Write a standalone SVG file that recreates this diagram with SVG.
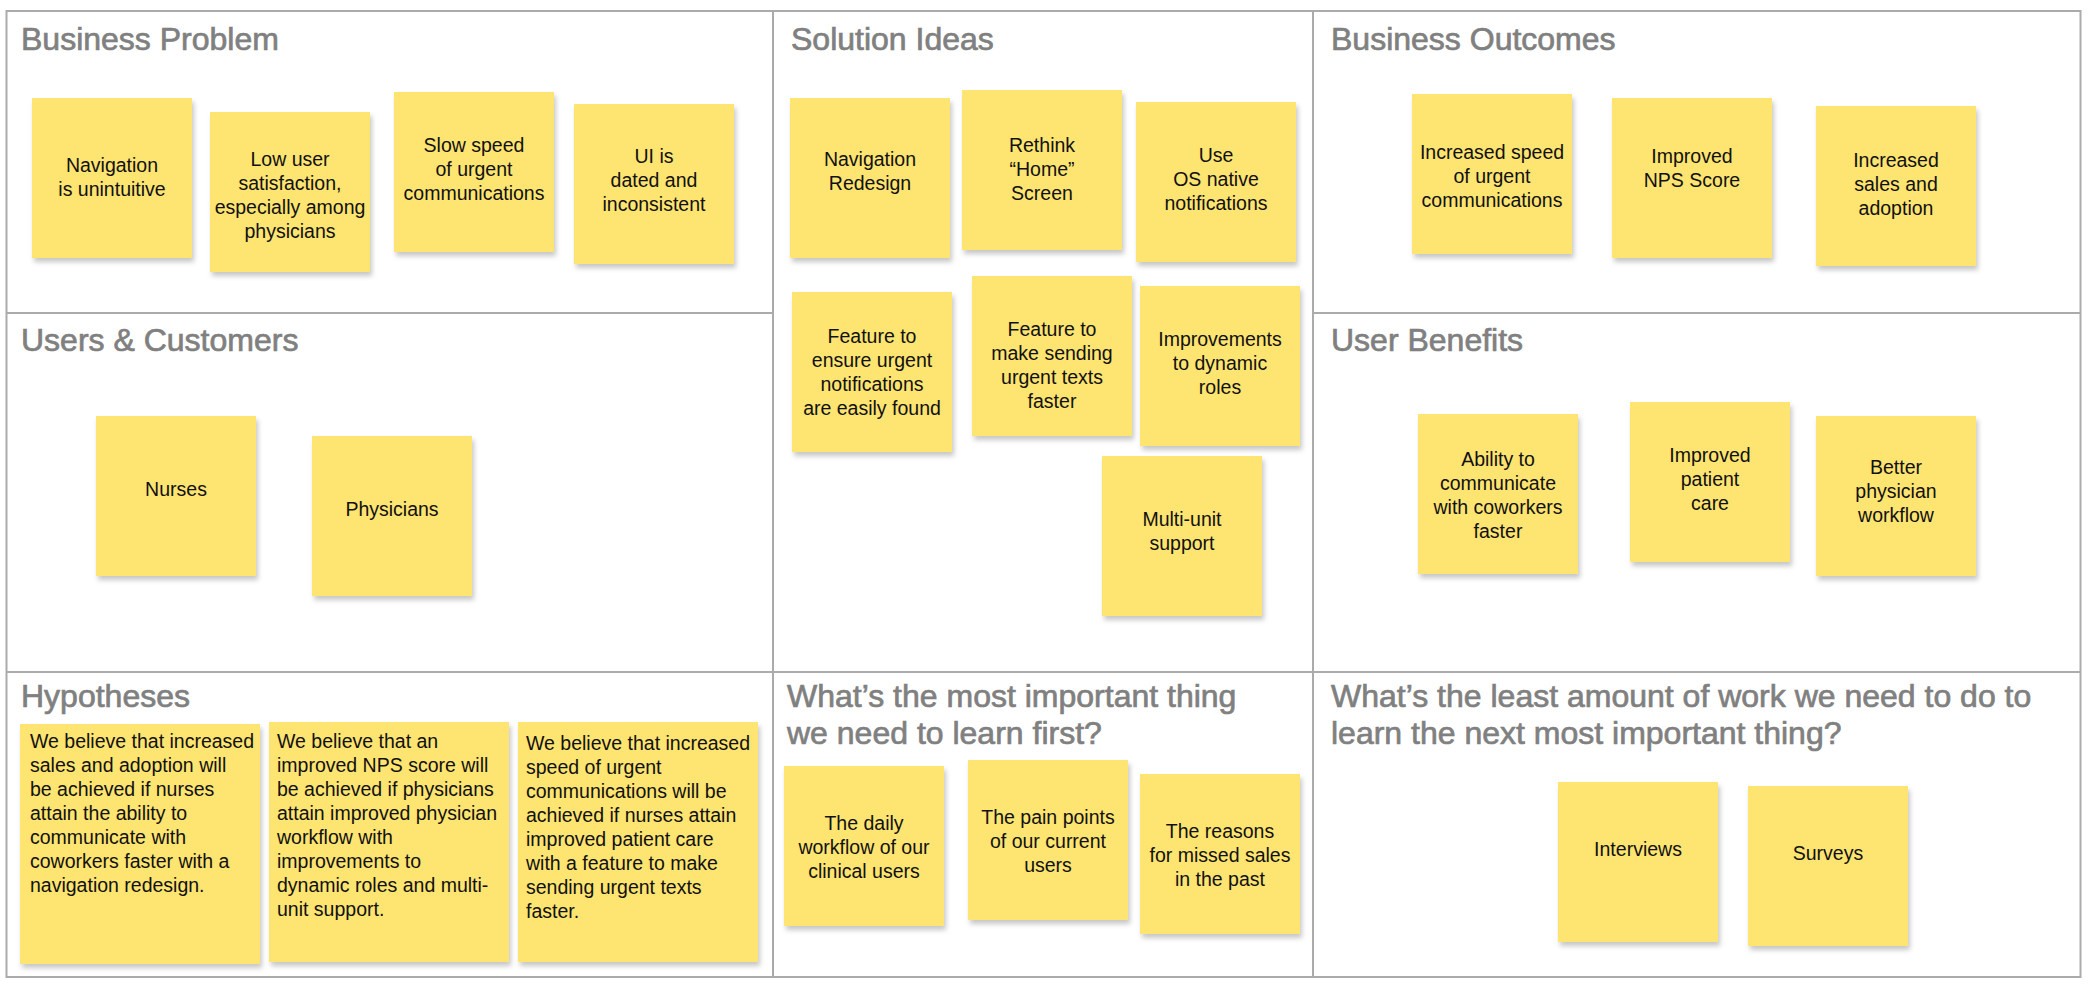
<svg xmlns="http://www.w3.org/2000/svg" width="2088" height="984" viewBox="0 0 2088 984">
  <defs>
    <filter id="noteShadow" x="-10%" y="-10%" width="125%" height="125%">
      <feDropShadow dx="2" dy="4" stdDeviation="2.5" flood-color="#000" flood-opacity="0.22"/>
    </filter>
  </defs>
  <style>
    .grid { fill: none; stroke: #ababab; stroke-width: 2; }
    .title { font-family: "Liberation Sans", Arial, sans-serif; font-size: 32px; fill: #808080; stroke: #808080; stroke-width: 0.7px; }
    .note rect { fill: #fee46f; filter: url(#noteShadow); }
    .note text { font-family: "Liberation Sans", Arial, sans-serif; font-size: 19.5px; fill: #111; text-anchor: middle; }
    .note text.left { text-anchor: start; }
  </style>
  <rect width="2088" height="984" fill="#ffffff"/>

  <!-- canvas grid -->
  <g id="grid" class="grid">
    <rect x="6.5" y="11" width="2074" height="966"/>
    <line x1="773" y1="11" x2="773" y2="977"/>
    <line x1="1313" y1="11" x2="1313" y2="977"/>
    <line x1="6.5" y1="313" x2="773" y2="313"/>
    <line x1="1313" y1="313" x2="2080.5" y2="313"/>
    <line x1="6.5" y1="672" x2="2080.5" y2="672"/>
  </g>

  <!-- section headings -->
  <g id="titles">
    <text class="title" x="21" y="50">Business Problem</text>
    <text class="title" x="791" y="50">Solution Ideas</text>
    <text class="title" x="1331" y="50">Business Outcomes</text>
    <text class="title" x="21" y="351">Users &amp; Customers</text>
    <text class="title" x="1331" y="351">User Benefits</text>
    <text class="title" x="21" y="707">Hypotheses</text>
    <text class="title" x="787" y="707">What’s the most important thing</text>
    <text class="title" x="787" y="744">we need to learn first?</text>
    <text class="title" x="1331" y="707">What’s the least amount of work we need to do to</text>
    <text class="title" x="1331" y="744">learn the next most important thing?</text>
  </g>

  <!-- Business Problem -->
  <g id="bp-navigation" class="note">
    <rect x="32" y="98" width="160" height="160"/>
    <text x="112" y="172"><tspan x="112">Navigation</tspan><tspan x="112" dy="24">is unintuitive</tspan></text>
  </g>
  <g id="bp-satisfaction" class="note">
    <rect x="210" y="112" width="160" height="160"/>
    <text x="290" y="166"><tspan x="290">Low user</tspan><tspan x="290" dy="24">satisfaction,</tspan><tspan x="290" dy="24">especially among</tspan><tspan x="290" dy="24">physicians</tspan></text>
  </g>
  <g id="bp-speed" class="note">
    <rect x="394" y="92" width="160" height="160"/>
    <text x="474" y="152"><tspan x="474">Slow speed</tspan><tspan x="474" dy="24">of urgent</tspan><tspan x="474" dy="24">communications</tspan></text>
  </g>
  <g id="bp-ui" class="note">
    <rect x="574" y="104" width="160" height="160"/>
    <text x="654" y="163"><tspan x="654">UI is</tspan><tspan x="654" dy="24">dated and</tspan><tspan x="654" dy="24">inconsistent</tspan></text>
  </g>

  <!-- Solution Ideas -->
  <g id="si-nav-redesign" class="note">
    <rect x="790" y="98" width="160" height="160"/>
    <text x="870" y="166"><tspan x="870">Navigation</tspan><tspan x="870" dy="24">Redesign</tspan></text>
  </g>
  <g id="si-home" class="note">
    <rect x="962" y="90" width="160" height="160"/>
    <text x="1042" y="152"><tspan x="1042">Rethink</tspan><tspan x="1042" dy="24">“Home”</tspan><tspan x="1042" dy="24">Screen</tspan></text>
  </g>
  <g id="si-os-notifications" class="note">
    <rect x="1136" y="102" width="160" height="160"/>
    <text x="1216" y="162"><tspan x="1216">Use</tspan><tspan x="1216" dy="24">OS native</tspan><tspan x="1216" dy="24">notifications</tspan></text>
  </g>
  <g id="si-urgent-found" class="note">
    <rect x="792" y="292" width="160" height="160"/>
    <text x="872" y="343"><tspan x="872">Feature to</tspan><tspan x="872" dy="24">ensure urgent</tspan><tspan x="872" dy="24">notifications</tspan><tspan x="872" dy="24">are easily found</tspan></text>
  </g>
  <g id="si-sending-faster" class="note">
    <rect x="972" y="276" width="160" height="160"/>
    <text x="1052" y="336"><tspan x="1052">Feature to</tspan><tspan x="1052" dy="24">make sending</tspan><tspan x="1052" dy="24">urgent texts</tspan><tspan x="1052" dy="24">faster</tspan></text>
  </g>
  <g id="si-dynamic-roles" class="note">
    <rect x="1140" y="286" width="160" height="160"/>
    <text x="1220" y="346"><tspan x="1220">Improvements</tspan><tspan x="1220" dy="24">to dynamic</tspan><tspan x="1220" dy="24">roles</tspan></text>
  </g>
  <g id="si-multi-unit" class="note">
    <rect x="1102" y="456" width="160" height="160"/>
    <text x="1182" y="526"><tspan x="1182">Multi-unit</tspan><tspan x="1182" dy="24">support</tspan></text>
  </g>

  <!-- Business Outcomes -->
  <g id="bo-speed" class="note">
    <rect x="1412" y="94" width="160" height="160"/>
    <text x="1492" y="159"><tspan x="1492">Increased speed</tspan><tspan x="1492" dy="24">of urgent</tspan><tspan x="1492" dy="24">communications</tspan></text>
  </g>
  <g id="bo-nps" class="note">
    <rect x="1612" y="98" width="160" height="160"/>
    <text x="1692" y="163"><tspan x="1692">Improved</tspan><tspan x="1692" dy="24">NPS Score</tspan></text>
  </g>
  <g id="bo-sales" class="note">
    <rect x="1816" y="106" width="160" height="160"/>
    <text x="1896" y="167"><tspan x="1896">Increased</tspan><tspan x="1896" dy="24">sales and</tspan><tspan x="1896" dy="24">adoption</tspan></text>
  </g>

  <!-- Users & Customers -->
  <g id="uc-nurses" class="note">
    <rect x="96" y="416" width="160" height="160"/>
    <text x="176" y="496">Nurses</text>
  </g>
  <g id="uc-physicians" class="note">
    <rect x="312" y="436" width="160" height="160"/>
    <text x="392" y="516">Physicians</text>
  </g>

  <!-- User Benefits -->
  <g id="ub-communicate" class="note">
    <rect x="1418" y="414" width="160" height="160"/>
    <text x="1498" y="466"><tspan x="1498">Ability to</tspan><tspan x="1498" dy="24">communicate</tspan><tspan x="1498" dy="24">with coworkers</tspan><tspan x="1498" dy="24">faster</tspan></text>
  </g>
  <g id="ub-patient-care" class="note">
    <rect x="1630" y="402" width="160" height="160"/>
    <text x="1710" y="462"><tspan x="1710">Improved</tspan><tspan x="1710" dy="24">patient</tspan><tspan x="1710" dy="24">care</tspan></text>
  </g>
  <g id="ub-workflow" class="note">
    <rect x="1816" y="416" width="160" height="160"/>
    <text x="1896" y="474"><tspan x="1896">Better</tspan><tspan x="1896" dy="24">physician</tspan><tspan x="1896" dy="24">workflow</tspan></text>
  </g>

  <!-- Hypotheses -->
  <g id="hyp-1" class="note">
    <rect x="20" y="724" width="240" height="240"/>
    <text class="left" x="30" y="748"><tspan x="30">We believe that increased</tspan><tspan x="30" dy="24">sales and adoption will</tspan><tspan x="30" dy="24">be achieved if nurses</tspan><tspan x="30" dy="24">attain the ability to</tspan><tspan x="30" dy="24">communicate with</tspan><tspan x="30" dy="24">coworkers faster with a</tspan><tspan x="30" dy="24">navigation redesign.</tspan></text>
  </g>
  <g id="hyp-2" class="note">
    <rect x="269" y="722" width="240" height="240"/>
    <text class="left" x="277" y="748"><tspan x="277">We believe that an</tspan><tspan x="277" dy="24">improved NPS score will</tspan><tspan x="277" dy="24">be achieved if physicians</tspan><tspan x="277" dy="24">attain improved physician</tspan><tspan x="277" dy="24">workflow with</tspan><tspan x="277" dy="24">improvements to</tspan><tspan x="277" dy="24">dynamic roles and multi-</tspan><tspan x="277" dy="24">unit support.</tspan></text>
  </g>
  <g id="hyp-3" class="note">
    <rect x="518" y="722" width="240" height="240"/>
    <text class="left" x="526" y="750"><tspan x="526">We believe that increased</tspan><tspan x="526" dy="24">speed of urgent</tspan><tspan x="526" dy="24">communications will be</tspan><tspan x="526" dy="24">achieved if nurses attain</tspan><tspan x="526" dy="24">improved patient care</tspan><tspan x="526" dy="24">with a feature to make</tspan><tspan x="526" dy="24">sending urgent texts</tspan><tspan x="526" dy="24">faster.</tspan></text>
  </g>

  <!-- Most important thing to learn -->
  <g id="learn-workflow" class="note">
    <rect x="784" y="766" width="160" height="160"/>
    <text x="864" y="830"><tspan x="864">The daily</tspan><tspan x="864" dy="24">workflow of our</tspan><tspan x="864" dy="24">clinical users</tspan></text>
  </g>
  <g id="learn-pain-points" class="note">
    <rect x="968" y="760" width="160" height="160"/>
    <text x="1048" y="824"><tspan x="1048">The pain points</tspan><tspan x="1048" dy="24">of our current</tspan><tspan x="1048" dy="24">users</tspan></text>
  </g>
  <g id="learn-missed-sales" class="note">
    <rect x="1140" y="774" width="160" height="160"/>
    <text x="1220" y="838"><tspan x="1220">The reasons</tspan><tspan x="1220" dy="24">for missed sales</tspan><tspan x="1220" dy="24">in the past</tspan></text>
  </g>

  <!-- Least amount of work -->
  <g id="work-interviews" class="note">
    <rect x="1558" y="782" width="160" height="160"/>
    <text x="1638" y="856">Interviews</text>
  </g>
  <g id="work-surveys" class="note">
    <rect x="1748" y="786" width="160" height="160"/>
    <text x="1828" y="860">Surveys</text>
  </g>
</svg>
